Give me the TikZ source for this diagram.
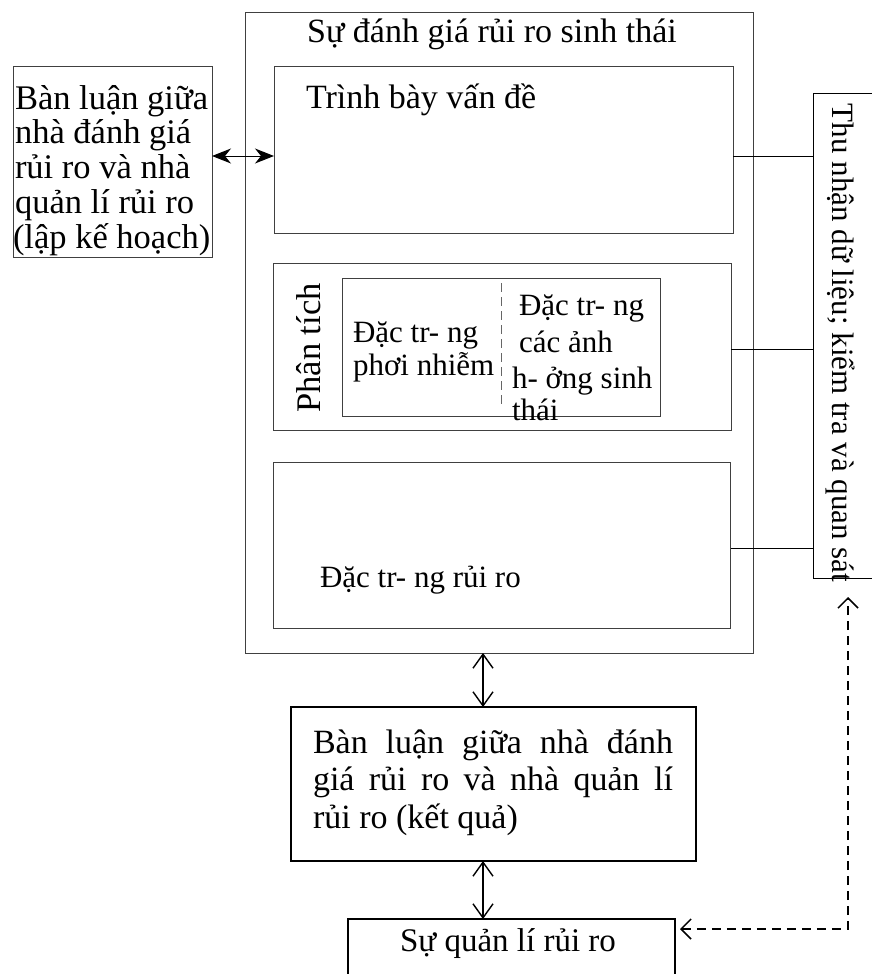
\documentclass[tikz,border=0pt]{standalone}
\usepackage{fontspec}
\setmainfont{Liberation Serif}
\usetikzlibrary{arrows.meta}
\newcommand{\fsz}[1]{\fontsize{#1}{#1}\selectfont}
\begin{document}
\begin{tikzpicture}[x=1pt,y=-1pt,
  every node/.style={font=\fsz{34}, inner sep=0pt, outer sep=0pt},
  box/.style={draw=black!75, line width=1pt, anchor=north west},
  heavybox/.style={draw=black, line width=2pt, anchor=north west},
  txt/.style={anchor=base west},
  small/.style={font=\fsz{31}},
  link/.style={draw=black, line width=0.9pt},
  sidearrow/.style={line width=1pt, {Stealth[length=19pt,width=15pt,inset=6pt]}-{Stealth[length=19pt,width=15pt,inset=6pt]}},
  twoway/.style={line width=1.4pt, {Straight Barb[length=14pt,width=20pt]}-{Straight Barb[length=14pt,width=20pt]}},
  feedback/.style={line width=1.5pt, dash pattern=on 9pt off 6pt, {Straight Barb[length=10pt,width=20pt]}-{Straight Barb[length=10pt,width=20pt]}},
  divider/.style={draw=black!60, line width=1pt, dash pattern=on 9pt off 5pt}
]
\useasboundingbox (0,0) rectangle (872,974);
\clip (0,0) rectangle (872,974);

% main assessment frame and its three stages
\node[box, minimum width=508pt, minimum height=640pt] (outer) at (245,13) {};
\node[box, minimum width=459pt, minimum height=166pt] (problem) at (274,67) {};
\node[box, minimum width=458pt, minimum height=167pt] (analysis) at (273,263) {};
\node[box, minimum width=318pt, minimum height=138pt] (inner) at (342,278) {};
\node[box, minimum width=457pt, minimum height=166pt] (riskchar) at (273,462) {};

% side boxes
\node[box, minimum width=199pt, minimum height=190pt] (plan) at (13,67) {};
\node[box, draw=black, minimum width=80pt, minimum height=485pt] (data) at (813,93) {};

% lower boxes
\node[heavybox, minimum width=405pt, minimum height=154pt] (result) at (291,707) {};
\node[box, draw=black, line width=1.5pt, minimum width=327pt, minimum height=80pt] (mgmt) at (348,919) {};

% texts
\node[anchor=base] (title) at (492,43) {Sự đánh giá rủi ro sinh thái};
\node[txt] (ptext) at (306,108) {Trình bày vấn đề};
\node[rotate=90, anchor=base, font=\fsz{34.5}] (atext) at (320,348) {Phân tích};

\node[txt, small] (exA) at (353,342) {Đặc tr- ng};
\node[txt, small] (exB) at (353,375) {phơi nhiễm};
\node[txt, small] (efA) at (519,315) {Đặc tr- ng};
\node[txt, small] (efB) at (519,352) {các ảnh};
\node[txt, small] (efC) at (512,388) {h- ởng sinh};
\node[txt, small] (efD) at (512,420) {thái};
\draw[divider] (501,283) -- (501,408);

\node[txt, small] (rtext) at (320,587) {Đặc tr- ng rủi ro};

\node[txt, font=\fsz{34.5}] (plA) at (15,109) {Bàn luận giữa};
\node[txt, font=\fsz{34.5}] (plB) at (15,143) {nhà đánh giá};
\node[txt, font=\fsz{34.5}] (plC) at (15,178) {rủi ro và nhà};
\node[txt, font=\fsz{34.5}] (plD) at (15,213) {quản lí rủi ro};
\node[txt, font=\fsz{34.5}] (plE) at (13,248) {(lập kế hoạch)};

\node[rotate=-90, anchor=base, small] (dtext) at (832,343) {Thu nhận dữ liệu; kiểm tra và quan sát};

\node[anchor=base west, text width=360pt, align=justify,
      font=\fontsize{34}{37.5}\selectfont] (restext) at (313,753)
  {Bàn luận giữa nhà đánh\linebreak giá rủi ro và nhà quản lí\linebreak rủi ro (kết quả)};

\node[anchor=base, font=\fsz{33}] (mtext) at (508,951) {Sự quản lí rủi ro};

% connectors
\coordinate (tapA) at (733,156);
\coordinate (tapB) at (731,349);
\coordinate (tapC) at (731,548);
\draw[link] (tapA) -- (tapA -| data.west);
\draw[link] (tapB) -- (tapB -| data.west);
\draw[link] (tapC) -- (tapC -| data.west);

\draw[sidearrow] (plan.east |- tapA) -- (problem.west |- tapA);

\coordinate (axis) at (483,0);
\draw[twoway] (axis |- outer.south) -- (axis |- result.north);
\draw[twoway] (axis |- result.south) -- (axis |- mgmt.north);

\coordinate (fbEnd) at (680,929);
\coordinate (fbTip) at (848,597);
\draw[feedback] (fbEnd) -| (fbTip);
\end{tikzpicture}
\end{document}
